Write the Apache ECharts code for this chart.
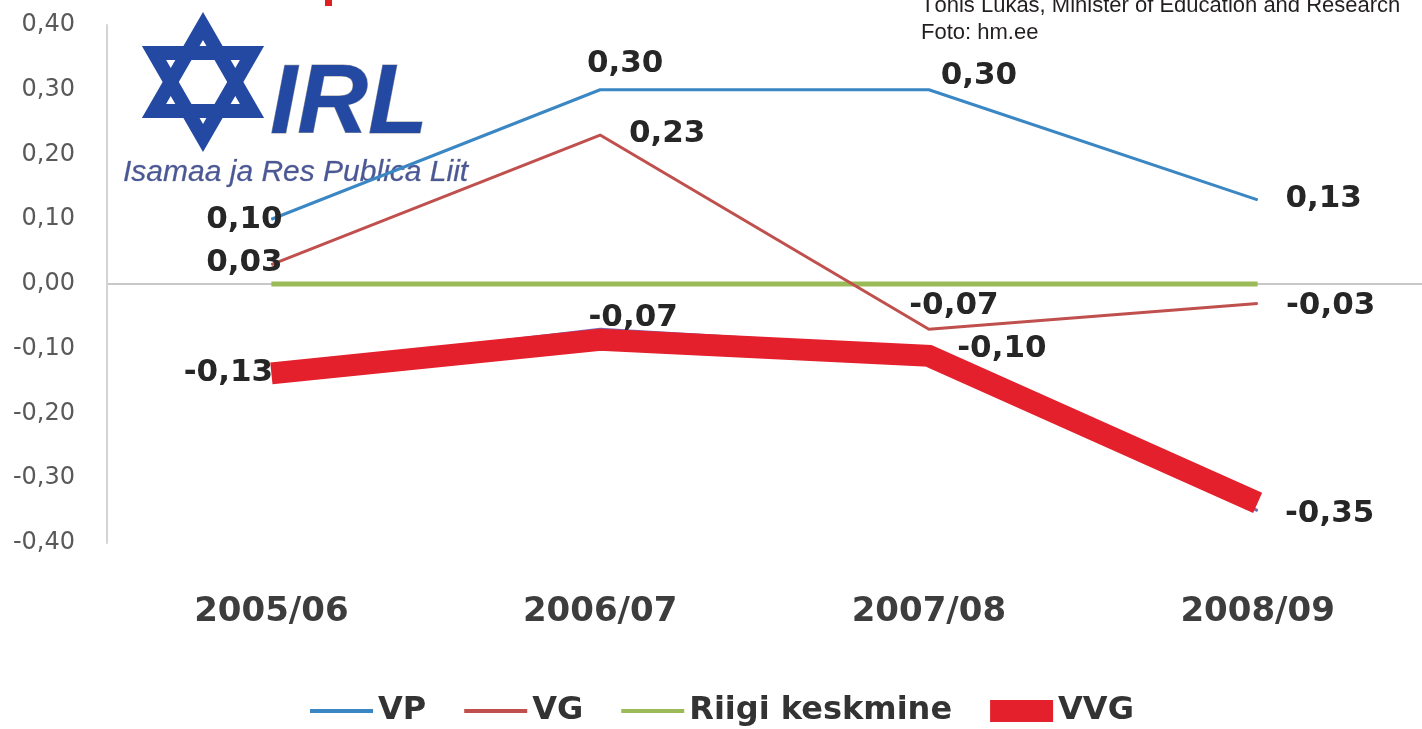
<!DOCTYPE html>
<html><head><meta charset="utf-8">
<script src="https://cdn.jsdelivr.net/npm/echarts@6/dist/echarts.min.js"></script>
<style>html,body{margin:0;padding:0;background:#fff;overflow:hidden;} #c{width:1422px;height:729px;}</style>
</head><body><div id="c"></div>
<script>
// ---- data ----
const categories = ['2005/06', '2006/07', '2007/08', '2008/09'];
const vp = [0.10, 0.30, 0.30, 0.13];
const vg = [0.03, 0.23, -0.07, -0.03];
const riigiKeskmine = [0.00, 0.00, 0.00, 0.00];
const vvg = [-0.13, -0.07, -0.10, -0.35];
// hand-drawn thick red marker over VVG
const vvgMarker = [-0.138, -0.086, -0.111, -0.338];
const yMin = -0.4, yMax = 0.4, yStep = 0.1;

// ---- label placement (style, relative to each point) ----
const vpLabelOffset  = [[-27, 1], [25, -26], [50, -14], [66, -1]];
const vgLabelOffset  = [[-27, -2], [67, -1], [25, -23], [73, 3]];
const vvgLabelOffset = [[-43, 5], [33, -11], [73, 0], [72, 3]];

const fmt = v => (Math.round(v * 100) / 100).toFixed(2).replace('.', ',');
const FONT = 'DejaVu Sans';

const labelBase = {
  show: true, position: 'inside', fontFamily: FONT, fontWeight: 'bold',
  fontSize: 31, color: '#262626', textBorderWidth: 0,
  formatter: p => fmt(p.value)
};
function lineSeries(name, values, color, width, offsets, z) {
  return {
    type: 'line', name, z,
    data: values.map((v, i) => offsets ? { value: v, label: { offset: offsets[i] } } : v),
    symbol: offsets ? 'circle' : 'none', symbolSize: 1,
    itemStyle: { color },
    lineStyle: { color, width },
    label: offsets ? labelBase : { show: false },
    emphasis: { disabled: true },
    silent: true
  };
}

const thinIcon = 'path://M0,0L0.01,0M0,9H63V13H0ZM0,22L0.01,22';
const rectIcon = 'path://M0,0H63V22H0Z';

const chart = echarts.init(document.getElementById('c'), null, { renderer: 'canvas' });
chart.setOption({
  animation: false,
  backgroundColor: '#ffffff',
  grid: { left: 107, right: 0, top: 25, bottom: 186, containLabel: false },
  xAxis: {
    type: 'category', data: categories, boundaryGap: true,
    axisLine: { show: false, onZero: false },
    axisTick: { show: false },
    axisLabel: { margin: 52, fontFamily: FONT, fontWeight: 'bold', fontSize: 34, color: '#3d3d3d' },
    splitLine: { show: false }
  },
  yAxis: {
    type: 'value', min: yMin, max: yMax, interval: yStep,
    axisLine: { show: true, lineStyle: { color: '#d4d4d4', width: 2 } },
    axisTick: { show: false },
    axisLabel: { margin: 32, fontFamily: FONT, fontSize: 24, color: '#595959', formatter: v => fmt(v) },
    splitLine: { show: true, lineStyle: { width: 2, color: ['transparent','transparent','transparent','transparent','#c8c8c8','transparent','transparent','transparent','transparent'] } }
  },
  legend: {
    left: 305, top: 690, itemWidth: 63, itemHeight: 22, itemGap: 38,
    selectedMode: false,
    itemStyle: { borderWidth: 0 },
    textStyle: { fontFamily: FONT, fontWeight: 'bold', fontSize: 32, color: '#333333' },
    data: [
      { name: 'VP', icon: thinIcon },
      { name: 'VG', icon: thinIcon },
      { name: 'Riigi keskmine', icon: thinIcon },
      { name: 'VVG', icon: rectIcon, itemStyle: { color: '#E3202B', borderWidth: 0 } }
    ]
  },
  series: [
    lineSeries('Riigi keskmine', riigiKeskmine, '#9BBB59', 5, null, 1),
    lineSeries('VP', vp, '#3A87C4', 3, vpLabelOffset, 2),
    lineSeries('VG', vg, '#C0504D', 3, vgLabelOffset, 2),
    lineSeries('VVG', vvg, '#7B68B0', 3, vvgLabelOffset, 3),
    Object.assign(lineSeries('VVG marker', vvgMarker, '#E3202B', 22, null, 4), {
      lineStyle: { color: '#E3202B', width: 22, cap: 'butt', join: 'miter' }
    })
  ],
  graphic: [
    { type: 'polygon', shape: { points: [[203, 26], [252, 111], [154, 111]] }, style: { fill: 'none', stroke: '#2449A2', lineWidth: 14 } },
    { type: 'polygon', shape: { points: [[203, 138], [252, 53], [154, 53]] }, style: { fill: 'none', stroke: '#2449A2', lineWidth: 14 } },
    { type: 'text', x: 270, y: 106, style: { text: 'IRL', font: 'italic bold 98px "Liberation Sans"', fill: '#2449A2', stroke: '#a0a0a0', lineWidth: 1, verticalAlign: 'middle' } },
    { type: 'text', x: 123, y: 173, style: { text: 'Isamaa ja Res Publica Liit', font: 'italic 30px "Liberation Sans"', fill: '#4a5898', stroke: '#b0b0b0', lineWidth: 0.5, verticalAlign: 'middle' } },
    { type: 'text', x: 921, y: 6, style: { text: 'Tõnis Lukas, Minister of Education and Research', font: '22px "Liberation Sans"', fill: '#231f20', verticalAlign: 'middle' } },
    { type: 'text', x: 921, y: 33, style: { text: 'Foto: hm.ee', font: '22px "Liberation Sans"', fill: '#231f20', verticalAlign: 'middle' } },
    { type: 'rect', shape: { x: 325, y: 0, width: 7, height: 6 }, style: { fill: '#e02020' } }
  ]
});
</script>
</body></html>
